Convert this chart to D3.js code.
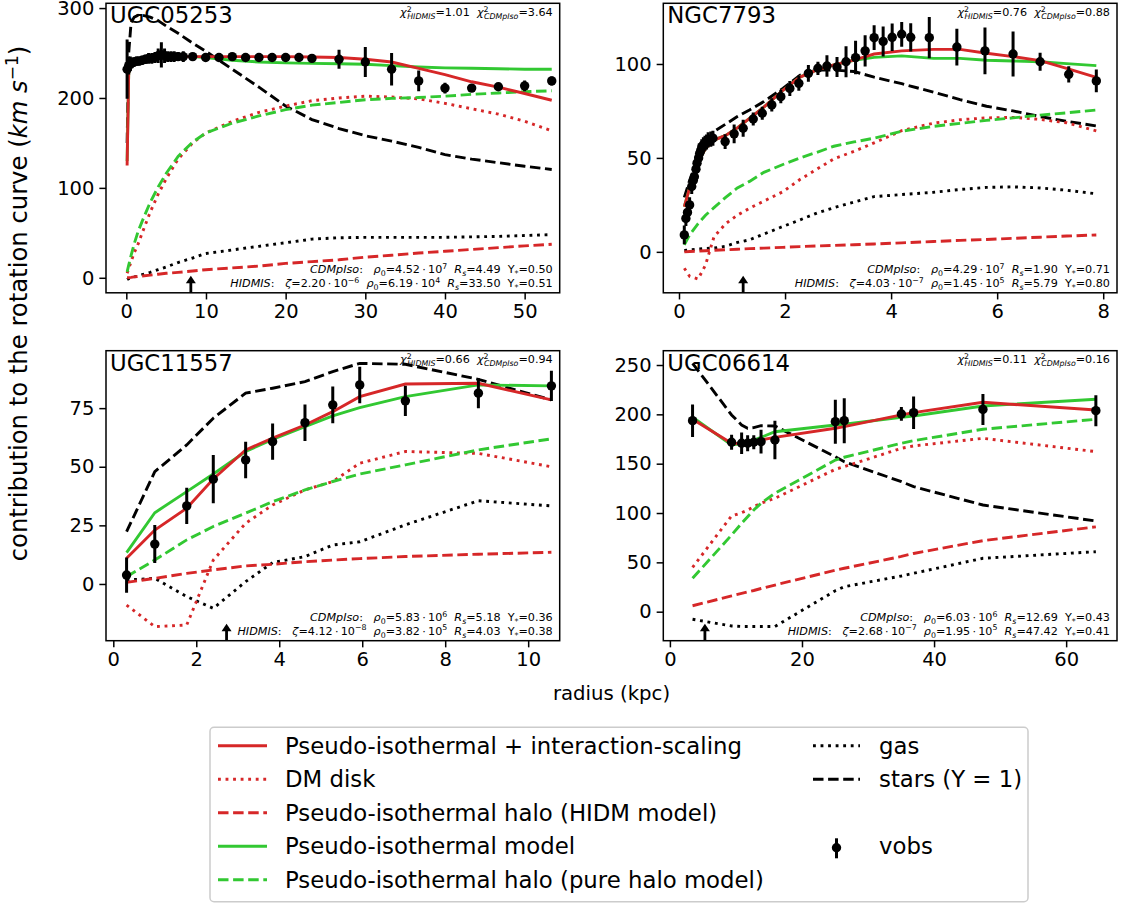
<!DOCTYPE html>
<html><head><meta charset="utf-8">
<script src="https://cdn.jsdelivr.net/npm/d3@7/dist/d3.min.js"></script>
<style>body{margin:0;background:#fff}svg{display:block}text{font-family:"DejaVu Sans",sans-serif}</style>
</head><body>
<script>
// ---------------- DATA ----------------
// UGC05253
const ugc05253_r   = [0.1,0.3,0.5,0.7,1.0,1.3,1.6,2.0,2.4,2.8,3.2,3.6,4.0,4.4,4.8,5.2,5.6,6.0,6.5,7.15,8.33,9.96,11.63,13.3,14.97,16.65,18.3,20.0,21.67,23.3,26.7,30.0,33.3,36.7,40.0,43.35,46.7,50.0,53.4];
const ugc05253_v   = [232,236,238,239,240,241,241,242,243,244,244,245,247,248,247,246,246,246,246,246,246,245,245,246,245,245,245,245,245,244,243,240,232,219,211,211,212.5,213.5,219];
const ugc05253_err = [33,10,8,6,5,5,5,5,5,6,6,6,8,14,8,6,6,6,5,6,3,3,3,3,3,3,3,3,3,3,10.6,16.7,18,11.5,6,3,4,6,5];
const ugc05253_rm     = [0.1,0.3,0.6,1.0,1.5,2.0,3.0,4.0,5.0,6.5,8.33,9.96,13.3,16.65,20.0,23.3,26.7,30.0,33.3,36.7,40.0,43.35,46.7,50.0,53.4];
const ugc05253_total  = [125,228,236,239,241,242,244,246,246,246,246,246,246,246,246,245.5,245,243,240,233,226,218,212,205,197.5];
const ugc05253_iso    = [130,228,236,239,241,242,244,246,246,246,246,245,242,240,239,238.5,238,237.5,236,234.5,233.5,233,232.5,232,232];
const ugc05253_stars  = [150,250,284,290,292,292,290,286,280,272,261,252,232,212,191,176,166,158,152,145,137,132,128,124,120.5];
const ugc05253_dmdisk = [5,10,18,28,38,50,73,93,110,132,150,161,174,184,191,197,200,202,201,199,194,188,182,174,163.5];
const ugc05253_haloIso= [6.5,14,25,38,52,63,84,101,116,135,151,161,172,180,187,192,195,198,199.5,200.5,202,204,205.5,207,208];
const ugc05253_gas    = [-2,-1,0,1,2,3.5,6,9,12,17,22,27,31,35,39,43,44.5,45,45,45,45,45.5,46,47,48];
const ugc05253_haloHI = [0,0.2,0.5,1,1.5,2,3,4,5,6,7.5,9,11,13,16,18,20,23,25,27.5,29.5,31.5,33.5,35.5,37.3];

// NGC7793
const ngc7793_r   = [0.10,0.13,0.16,0.20,0.24,0.27,0.29,0.32,0.34,0.37,0.39,0.41,0.43,0.46,0.49,0.52,0.55,0.60,0.64,0.87,1.04,1.21,1.40,1.57,1.75,1.92,2.09,2.26,2.44,2.62,2.79,2.98,3.15,3.33,3.51,3.68,3.85,4.02,4.20,4.37,4.72,5.24,5.77,6.30,6.81,7.35,7.87];
const ngc7793_v   = [9.0,17.8,21,25,34.8,38,40,44,47.2,50,52.5,54,56,57,57.8,58.5,59.6,60,60.5,58.7,62.8,65.8,70.7,73.8,78.2,82.6,87,89.7,95,97.7,98.9,98.4,101.2,103.4,107,114,112,114.2,115.8,114.2,114,109,107,105.3,101.2,94.5,91];
const ngc7793_err = [5,4,4,4,4,4,4,4,4,4,4,4,4,4,4,4,4,4,4,3.9,5,4.5,3.5,3.5,3.5,3.5,4,4,4.4,3.5,5.7,5.3,8.3,8.9,8.3,6.6,8,7.3,6.6,7.5,11,9.8,12.4,12,4.8,4.3,6];
const ngc7793_rm     = [0.1,0.2,0.36,0.5,0.66,0.88,1.1,1.33,1.6,1.96,2.28,2.6,2.92,3.3,3.68,4.2,4.8,5.3,5.8,6.3,6.81,7.31,7.87];
const ngc7793_total  = [24,34,48,55,59.5,62,66,71,77,86,93,96.8,99.5,102,105.3,107,107.8,107.8,105.7,103.9,101.8,97.7,92.9];
const ngc7793_iso    = [24,34,48,55,59.5,62,66,71,77,86,93,96.8,99.5,102,103.5,104.3,103,103,102,101.6,101.2,100.2,99.1];
const ngc7793_stars  = [29,38,50,58,64,68,72,75.5,80,87,94,96.8,96.8,96,93,89.5,85,81,77.5,75,72,69.5,67];
const ngc7793_dmdisk = [-8.7,-13,-14.5,-7,8,15,19.5,23.2,27,32,38.5,44,49.5,53.5,58,64.5,68.5,70.3,71.3,71.6,70.5,68.7,64.4];
const ngc7793_haloIso= [3.7,9,15,19.5,23.5,29,34,37.5,42.3,46.5,50,53,56.2,58.5,60.5,64.2,66.8,68.4,70,71.3,72.8,74,75.5];
const ngc7793_gas    = [0.7,1,1.5,1.8,2,3,5,6.4,9.5,13.5,17,20.6,23.5,26.5,29.4,30.5,31.7,33.2,34.3,34.6,34,32.8,30.9];
const ngc7793_haloHI = [0,0.2,0.4,0.6,0.8,1.1,1.4,1.7,2,2.4,2.8,3.1,3.4,3.8,4.2,4.8,5.5,6.1,6.6,7.2,7.8,8.4,9];

// UGC11557
const ugc11557_r      = [0.32,1.0,1.77,2.41,3.19,3.84,4.62,5.29,5.94,7.04,8.8,10.56];
const ugc11557_v      = [3.8,17,33.3,44.7,52.9,60.7,68.8,76.4,84.9,78.1,81.4,84.5];
const ugc11557_err    = [7.5,8.1,7.7,10.3,7.8,7.7,7.8,7.8,7.8,6.5,6.4,6.5];
const ugc11557_total  = [11,23,32.3,44.8,57.2,62.2,67.8,73.5,79.9,85.3,85.6,78.5];
const ugc11557_iso    = [13.4,30.4,39.4,46.9,56.5,61.7,67.1,71.7,75.2,79.9,84.9,84.5];
const ugc11557_stars  = [22.3,47.9,59.3,70.7,81.4,83.5,86.3,90.6,94.1,93.7,87.3,78.5];
const ugc11557_dmdisk = [-9,-18.2,-17.5,10.2,25.9,33.7,40.1,43.7,51.5,56.5,55.7,50];
const ugc11557_haloIso= [3.1,10.2,18.8,24.5,30.2,35.1,40.1,43.7,46.9,50.8,57.2,61.9];
const ugc11557_gas    = [1.7,2.4,-5.4,-10.4,1,9.1,11.7,16.6,18,25.2,35.5,33.3];
const ugc11557_haloHI = [0.7,2.4,4.5,6,7.7,8.4,9.5,10.2,10.8,11.7,12.7,13.5];

// UGC06614
const ugc06614_r      = [3.43,9.34,10.86,11.77,12.7,13.8,15.9,25.05,26.4,35.05,36.9,47.4,64.5];
const ugc06614_v      = [193.6,171.7,170.7,170.7,171.7,172.3,174,192.6,193.6,200.4,201.7,205,203.7];
const ugc06614_err    = [16.5,7.6,11,8,7,12,19.6,22.3,22.8,7,16.5,15.7,15.7];
const ugc06614_total  = [195,170.7,170.5,171,172,174,176.7,185.9,187.5,199.4,201.7,212.2,204.4];
const ugc06614_iso    = [197,169,170.5,172,174,176.7,182.4,189.2,189.9,197,198.3,208.5,215.3];
const ugc06614_stars  = [251.7,199.4,189.2,185.9,186.5,188.5,188.2,157,152,131.8,126.7,108.1,91.9];
const ugc06614_dmdisk = [45,97,100.3,103,106.4,109.9,114.9,144.3,147,165.6,168,175.7,162.2];
const ugc06614_haloIso= [33.8,77.7,89.6,96.3,103,109.9,120,153.7,156.5,170.7,173.3,184.9,195];
const ugc06614_gas    = [-7.7,-14.5,-15,-15,-15,-15,-15,21.3,25.3,36.2,38.9,54.1,60.8];
const ugc06614_haloHI = [6,16,18.5,20,21.5,23.5,27,42,44,56,59,72,86];

// tick values
const ticksX1 = [0,10,20,30,40,50], ticksY1 = [0,100,200,300];
const ticksX2 = [0,2,4,6,8],        ticksY2 = [0,50,100];
const ticksX3 = [0,2,4,6,8,10],     ticksY3 = [0,25,50,75];
const ticksX4 = [0,20,40,60],       ticksY4 = [0,50,100,150,200,250];

// fit annotations
const galaxyNames = ["UGC05253","NGC7793","UGC11557","UGC06614"];
const chiHIDMIS   = ["1.01","0.76","0.66","0.11"];
const chiCDM      = ["3.64","0.88","0.94","0.16"];
const cdmRho      = [["4.52","7"],["4.29","7"],["5.83","6"],["6.03","6"]];
const cdmRs       = ["4.49","1.90","5.18","12.69"];
const cdmY        = ["0.50","0.71","0.36","0.43"];
const hiZeta      = [["2.20","−6"],["4.03","−7"],["4.12","−8"],["2.68","−7"]];
const hiRho       = [["6.19","4"],["1.45","5"],["3.82","5"],["1.95","5"]];
const hiRs        = ["33.50","5.79","4.03","47.42"];
const hiY         = ["0.51","0.80","0.38","0.41"];
const arrowR      = [8.1, 1.21, 2.73, 5.3];

const legendLabels = ["Pseudo-isothermal + interaction-scaling","DM disk","Pseudo-isothermal halo (HIDM model)","Pseudo-isothermal model","Pseudo-isothermal halo (pure halo model)","gas","stars (Υ = 1)","vobs"];

// ---------------- STYLE / LAYOUT ----------------
const RED = "#d62728", GREEN = "#32c832", BLACK = "#000";
const LW = 2.9;
const DASH = "10.5,4.6", DOT = "2.85,4.7";
const DOTSEP = "\u2009·\u2009";
const styles = {
  total:  {color:RED,   dash:null},
  dmdisk: {color:RED,   dash:DOT},
  haloHI: {color:RED,   dash:DASH},
  iso:    {color:GREEN, dash:null},
  haloIso:{color:GREEN, dash:DASH},
  gas:    {color:BLACK, dash:DOT},
  stars:  {color:BLACK, dash:DASH}
};
const drawOrder = ["stars","gas","haloHI","dmdisk","haloIso","iso","total"];

const panels = [
  {left:106, right:559.7, top:3.3, bottom:292.8, xd:[-2.55,54.4], yd:[-16.7,305.3], tx:ticksX1, ty:ticksY1,
   r:ugc05253_r, v:ugc05253_v, e:ugc05253_err, rm:ugc05253_rm,
   c:{total:ugc05253_total, iso:ugc05253_iso, stars:ugc05253_stars, dmdisk:ugc05253_dmdisk, haloIso:ugc05253_haloIso, gas:ugc05253_gas, haloHI:ugc05253_haloHI}},
  {left:663.3, right:1117, top:3.3, bottom:292.8, xd:[-0.296,8.26], yd:[-21.8,132.3], tx:ticksX2, ty:ticksY2,
   r:ngc7793_r, v:ngc7793_v, e:ngc7793_err, rm:ngc7793_rm,
   c:{total:ngc7793_total, iso:ngc7793_iso, stars:ngc7793_stars, dmdisk:ngc7793_dmdisk, haloIso:ngc7793_haloIso, gas:ngc7793_gas, haloHI:ngc7793_haloHI}},
  {left:106, right:559.7, top:350.7, bottom:640.7, xd:[-0.176,10.76], yd:[-24.2,99.5], tx:ticksX3, ty:ticksY3,
   r:ugc11557_r, v:ugc11557_v, e:ugc11557_err, rm:ugc11557_r,
   c:{total:ugc11557_total, iso:ugc11557_iso, stars:ugc11557_stars, dmdisk:ugc11557_dmdisk, haloIso:ugc11557_haloIso, gas:ugc11557_gas, haloHI:ugc11557_haloHI}},
  {left:663.3, right:1117, top:350.7, bottom:640.7, xd:[-1.0,67.7], yd:[-29.4,264.5], tx:ticksX4, ty:ticksY4,
   r:ugc06614_r, v:ugc06614_v, e:ugc06614_err, rm:ugc06614_r,
   c:{total:ugc06614_total, iso:ugc06614_iso, stars:ugc06614_stars, dmdisk:ugc06614_dmdisk, haloIso:ugc06614_haloIso, gas:ugc06614_gas, haloHI:ugc06614_haloHI}}
];

const W = 1139, H = 905;
const svg = d3.select("body").append("svg").attr("width",W).attr("height",H);
const defs = svg.append("defs");

// rich text helper: segs = [[text, flags, dx]] flags: i (italic), sub, sup
function rich(g, x, y, segs, fs, anchor){
  const t = g.append("text").attr("x",x).attr("y",y).attr("font-size",fs)
    .attr("text-anchor",anchor||"start").attr("xml:space","preserve").style("white-space","pre");
  let off = 0;
  segs.forEach(s => {
    const txt = s[0], f = s[1]||"", dxv = s[2]||0;
    let target = 0, size = fs;
    if (f.includes("sub")) { target = fs*0.25; size = fs*0.7; }
    if (f.includes("sup")) { target = -fs*0.38; size = fs*0.7; }
    const ts = t.append("tspan").text(txt).attr("font-size",size).attr("dy",target-off);
    if (dxv) ts.attr("dx",dxv);
    if (f.includes("i")) ts.attr("font-style","italic");
    off = target;
  });
  return t;
}

panels.forEach((p,i) => {
  const x = d3.scaleLinear().domain(p.xd).range([p.left,p.right]);
  const y = d3.scaleLinear().domain(p.yd).range([p.bottom,p.top]);
  const g = svg.append("g");
  const cid = "clip"+i;
  defs.append("clipPath").attr("id",cid).append("rect")
    .attr("x",p.left).attr("y",p.top).attr("width",p.right-p.left).attr("height",p.bottom-p.top);
  const plot = g.append("g").attr("clip-path",`url(#${cid})`);

  // model curves
  drawOrder.forEach(k => {
    const vals = p.c[k], st = styles[k];
    const line = d3.line().x((d,j)=>x(p.rm[j])).y(d=>y(d));
    plot.append("path").datum(vals).attr("d",line).attr("fill","none")
      .attr("stroke",st.color).attr("stroke-width",LW)
      .attr("stroke-dasharray",st.dash);
  });

  // observed points with error bars
  const obs = p.r.map((r,j)=>({r, v:p.v[j], e:p.e[j]}));
  plot.selectAll("line.eb").data(obs).join("line").attr("class","eb")
    .attr("x1",d=>x(d.r)).attr("x2",d=>x(d.r))
    .attr("y1",d=>y(d.v-d.e)).attr("y2",d=>y(d.v+d.e))
    .attr("stroke",BLACK).attr("stroke-width",3);
  plot.selectAll("circle.pt").data(obs).join("circle").attr("class","pt")
    .attr("cx",d=>x(d.r)).attr("cy",d=>y(d.v)).attr("r",4.7).attr("fill",BLACK);

  // arrow
  const ax = x(arrowR[i]);
  g.append("line").attr("x1",ax).attr("x2",ax).attr("y1",p.bottom).attr("y2",p.bottom-10)
    .attr("stroke",BLACK).attr("stroke-width",2.8);
  g.append("path").attr("d",`M${ax-5},${p.bottom-9.5}L${ax+5},${p.bottom-9.5}L${ax},${p.bottom-17}Z`).attr("fill",BLACK);

  // axes
  const xa = g.append("g").attr("transform",`translate(0,${p.bottom})`)
    .call(d3.axisBottom(x).tickValues(p.tx).tickSize(6.65).tickPadding(5).tickFormat(d3.format("d")));
  const ya = g.append("g").attr("transform",`translate(${p.left},0)`)
    .call(d3.axisLeft(y).tickValues(p.ty).tickSize(6.65).tickPadding(5).tickFormat(d3.format("d")));
  [xa,ya].forEach(a=>{
    a.select(".domain").remove();
    a.selectAll(".tick line").attr("stroke",BLACK).attr("stroke-width",1.5);
    a.selectAll(".tick text").attr("font-size",19.5).attr("fill",BLACK).attr("font-family","DejaVu Sans");
  });
  g.append("rect").attr("x",p.left).attr("y",p.top).attr("width",p.right-p.left).attr("height",p.bottom-p.top)
    .attr("fill","none").attr("stroke",BLACK).attr("stroke-width",1.5);

  // texts
  g.append("text").attr("x",p.left+4).attr("y",p.top+20).attr("font-size",22.8).text(galaxyNames[i]);
  rich(g, p.right-7, p.top+12.5, [
    ["χ","i"],["2","sup"],["HIDMIS","isub",-4.5],["="+chiHIDMIS[i]+"  "],
    ["χ","i"],["2","sup"],["CDMpIso","isub",-4.5],["="+chiCDM[i]]
  ], 11.2, "end");
  rich(g, p.right-7, p.bottom-19.5, [
    ["CDMpIso","i"],[":   "],["ρ","i"],["0","sub"],["="+cdmRho[i][0]+DOTSEP+"10"],[cdmRho[i][1],"sup"],["  "],
    ["R","i"],["s","isub"],["="+cdmRs[i]+"  Υ"],["*","sub"],["="+cdmY[i]]
  ], 11.2, "end");
  rich(g, p.right-7, p.bottom-6, [
    ["HIDMIS","i"],[":   "],["ζ","i"],["="+hiZeta[i][0]+DOTSEP+"10"],[hiZeta[i][1],"sup"],["  "],
    ["ρ","i"],["0","sub"],["="+hiRho[i][0]+DOTSEP+"10"],[hiRho[i][1],"sup"],["  "],
    ["R","i"],["s","isub"],["="+hiRs[i]+"  Υ"],["*","sub"],["="+hiY[i]]
  ], 11.2, "end");
});

// axis labels
svg.append("text").attr("x",611.5).attr("y",700).attr("text-anchor","middle").attr("font-size",19.7).text("radius (kpc)");
rich(svg.append("g").attr("transform","translate(27,303.5) rotate(-90)"), 0, 0, [
  ["contribution to the rotation curve ("],["km s","i"],["−1","sup"],[")"]
], 24.3, "middle");

// legend
const lg = svg.append("g");
lg.append("rect").attr("x",210).attr("y",727.3).attr("width",818).attr("height",174.4).attr("rx",4)
  .attr("fill","#fff").attr("stroke","#cccccc").attr("stroke-width",1.5);
const rowsY = [745.7,779.2,812.8,846.3,879.8];
const legItems = [
  {k:"total",  col:0,row:0},{k:"dmdisk",col:0,row:1},{k:"haloHI",col:0,row:2},
  {k:"iso",    col:0,row:3},{k:"haloIso",col:0,row:4},
  {k:"gas",    col:1,row:0},{k:"stars", col:1,row:1},{k:"vobs",col:1,row:3}
];
const colX = [[218,267,285],[813,860,879]];
legItems.forEach((it,j) => {
  const yy = rowsY[it.row], c = colX[it.col];
  if (it.k === "vobs") {
    const cx = (c[0]+c[1])/2;
    lg.append("line").attr("x1",cx).attr("x2",cx).attr("y1",yy-8).attr("y2",yy+12).attr("stroke",BLACK).attr("stroke-width",3);
    lg.append("circle").attr("cx",cx).attr("cy",yy+1.5).attr("r",4.7).attr("fill",BLACK);
  } else {
    const st = styles[it.k];
    lg.append("line").attr("x1",c[0]).attr("x2",c[1]).attr("y1",yy).attr("y2",yy)
      .attr("stroke",st.color).attr("stroke-width",LW).attr("stroke-dasharray",st.dash);
  }
  lg.append("text").attr("x",c[2]).attr("y",yy+8).attr("font-size",22.8).text(legendLabels[j]);
});
</script>
</body></html>
